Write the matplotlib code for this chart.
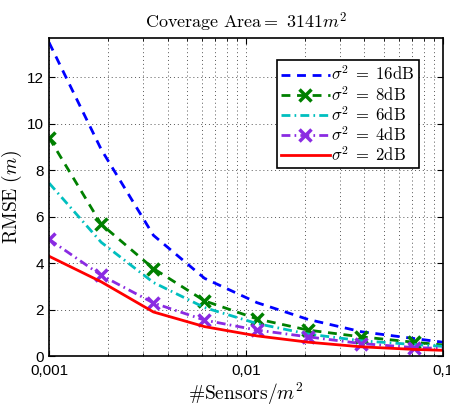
import numpy as np
import matplotlib
matplotlib.use("Agg")
import matplotlib.pyplot as plt
from matplotlib.ticker import FixedLocator, LogLocator, NullFormatter

plt.rcParams['mathtext.fontset'] = 'cm'
plt.rcParams['font.family'] = ['Liberation Sans', 'DejaVu Sans']

# sensor density (sensors per m^2)
density = [0.001, 0.00184, 0.00339, 0.00616, 0.0114, 0.0207, 0.0386, 0.0711, 0.1]

rmse_16 = [13.5, 8.9, 5.2, 3.35, 2.3, 1.58, 1.05, 0.76, 0.6]
rmse_8 = [9.4, 5.68, 3.77, 2.38, 1.6, 1.12, 0.83, 0.6, 0.48]
rmse_6 = [7.45, 4.9, 3.17, 2.09, 1.4, 0.95, 0.66, 0.5, 0.42]
rmse_4 = [5.03, 3.48, 2.29, 1.55, 1.12, 0.83, 0.54, 0.37, 0.33]
rmse_2 = [4.3, 3.2, 1.9, 1.27, 0.87, 0.6, 0.4, 0.29, 0.25]

labels = [r'$\sigma^2\;=\;16\mathrm{dB}$', r'$\sigma^2\;=\;8\mathrm{dB}$',
          r'$\sigma^2\;=\;6\mathrm{dB}$', r'$\sigma^2\;=\;4\mathrm{dB}$',
          r'$\sigma^2\;=\;2\mathrm{dB}$']
xticks = [0.001, 0.01, 0.1]
xticklabels = ['0,001', '0,01', '0,1']
yticks = [0, 2, 4, 6, 8, 10, 12]

fig = plt.figure(figsize=(4.5, 4.07), dpi=100)
ax = fig.add_axes([0.109, 0.125, 0.875, 0.782])

mk = range(0, 8)
ax.plot(density, rmse_16, color='#0000ff', ls=(0, (3.2, 2.4)), lw=2, label=labels[0])
ax.plot(density, rmse_8, color='#008000', ls=(0, (3.2, 2.4)), lw=2, marker='x',
        ms=8, mew=2.5, markevery=mk, label=labels[1])
ax.plot(density, rmse_6, color='#00bfbf', ls=(0, (3.2, 1.5, 0.6, 1.5)), lw=2, label=labels[2])
ax.plot(density, rmse_4, color='#8a2be2', ls=(0, (3.2, 1.5, 0.6, 1.5)), lw=2, marker='x',
        ms=8, mew=2.5, markevery=mk, label=labels[3])
ax.plot(density, rmse_2, color='#ff0000', ls='-', lw=2, label=labels[4])

ax.set_xscale('log')
ax.set_xlim(0.001, 0.1)
ax.set_ylim(0, 13.7)
ax.xaxis.set_major_locator(FixedLocator(xticks))
ax.set_xticks(xticks)
ax.set_xticklabels(xticklabels)
ax.xaxis.set_minor_locator(LogLocator(base=10, subs=np.arange(2, 10)))
ax.xaxis.set_minor_formatter(NullFormatter())
ax.set_yticks(yticks)

ax.grid(True, which='both', axis='x', color='#555555', ls=(0, (1, 3)), lw=0.7)
ax.grid(True, which='major', axis='y', color='#555555', ls=(0, (1, 3)), lw=0.7)

ax.tick_params(which='both', direction='in', top=True, right=True, labelsize=11)
ax.tick_params(which='major', length=4)
ax.tick_params(which='minor', length=2)
ax.tick_params(axis='x', which='major', pad=6)
for s in ax.spines.values():
    s.set_linewidth(1.2)

ax.set_title(r'$\mathrm{Coverage\ Area}{=}\ 3141m^2$', fontsize=13, pad=7)
ax.set_xlabel(r'$\#\mathrm{Sensors}/m^2$', fontsize=14, labelpad=2)
ax.set_ylabel(r'$\mathrm{RMSE}\ (m)$', fontsize=14, labelpad=2)

leg = ax.legend(loc='upper right', bbox_to_anchor=(0.939, 0.929), borderaxespad=0,
                fontsize=12, handlelength=2.9, handletextpad=0.1, labelspacing=0.08,
                numpoints=1, fancybox=False, framealpha=1, edgecolor='black',
                borderpad=0.25)
leg.get_frame().set_linewidth(1.2)

fig.savefig('out.png', dpi=100)
